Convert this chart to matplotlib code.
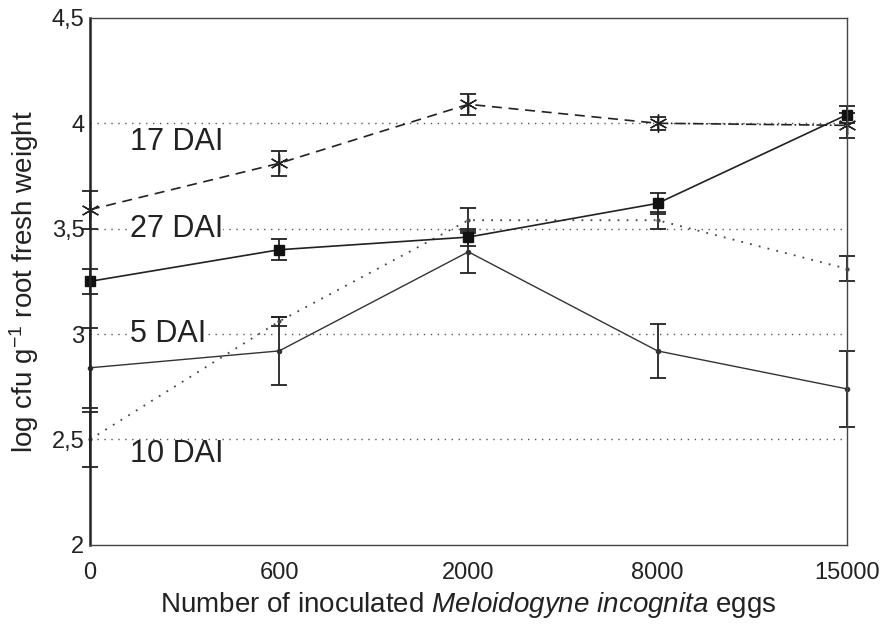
import numpy as np
import matplotlib
matplotlib.use("Agg")
import matplotlib.pyplot as plt

plt.rcParams['font.family'] = ['Liberation Sans', 'DejaVu Sans']
plt.rcParams['mathtext.fontset'] = 'custom'
plt.rcParams['mathtext.rm'] = 'Liberation Sans'
plt.rcParams['mathtext.it'] = 'Liberation Sans:italic'

# data
eggs = ['0', '600', '2000', '8000', '15000']

dai17 = [3.59, 3.81, 4.09, 4.00, 3.99]
dai17_err = [0.09, 0.06, 0.05, 0.03, 0.06]

dai27 = [3.25, 3.40, 3.46, 3.62, 4.04]
dai27_err = [0.06, 0.05, 0.04, 0.05, 0.04]

dai5 = [2.84, 2.92, 3.39, 2.92, 2.74]
dai5_err = [0.19, 0.16, 0.10, 0.13, 0.18]

dai10 = [2.50, 3.06, 3.54, 3.54, 3.31]
dai10_err = [0.13, 0.02, 0.06, 0.04, 0.06]

ref_levels = [4.0, 3.5, 3.0, 2.5]
ref_labels = ['17 DAI', '27 DAI', '5 DAI', '10 DAI']
label_offsets = [-0.09, 0.0, 0.0, -0.07]

x = np.arange(len(eggs))

fig = plt.figure(figsize=(8.82, 6.38), dpi=100)
ax = fig.add_axes([0.102, 0.146, 0.858, 0.826])

# dotted reference lines with labels
for lev, lab, off in zip(ref_levels, ref_labels, label_offsets):
    ax.plot([x[0], x[-1]], [lev, lev], color='#555555', ls=(0, (1, 4)), lw=1.0, zorder=1)
    ax.text(0.21, lev + off, lab, fontsize=22, va='center', ha='left',
            color='#222222', zorder=2,
            bbox=dict(facecolor='white', edgecolor='none', pad=0.3) if off == 0 else None)

ebkw = dict(ecolor='#222222', elinewidth=1.3, capsize=6, capthick=1.3)


def noclip(container):
    for art in container.get_children():
        art.set_clip_on(False)


# 17 DAI
noclip(ax.errorbar(x, dai17, yerr=dai17_err, fmt='none', **ebkw))
ax.plot(x[:4], dai17[:4], color='#222222', ls=(0, (6, 4)), lw=1.2)
ax.plot(x[3:], dai17[3:], color='#222222', ls='-.', lw=1.2)
ax.plot(x, dai17, ls='none', marker=(6, 2, 0), ms=13, mec='#222222', mew=1.0, clip_on=False)

# 27 DAI
noclip(ax.errorbar(x, dai27, yerr=dai27_err, fmt='-', color='#222222', lw=1.2,
                   marker='s', ms=7, mfc='#111111', mec='#111111', **ebkw))

# 5 DAI
noclip(ax.errorbar(x, dai5, yerr=dai5_err, fmt='-', color='#333333', lw=1.0,
                   marker='o', ms=3, mfc='#333333', **ebkw))

# 10 DAI
noclip(ax.errorbar(x, dai10, yerr=dai10_err, fmt='none', **ebkw))
ax.plot(x, dai10, color='#444444', ls=(0, (1, 4)), lw=1.3, marker='o', ms=2, clip_on=False)

ax.set_xlim(x[0], x[-1])
ax.set_ylim(2, 4.5)
ax.set_xticks(x)
ax.set_xticklabels(eggs)
yt = [2, 2.5, 3, 3.5, 4, 4.5]
ax.set_yticks(yt)
ax.set_yticklabels([('%g' % v).replace('.', ',') for v in yt])
ax.tick_params(axis='both', labelsize=17, colors='#222222', length=0)
ax.tick_params(axis='y', pad=4)
ax.tick_params(axis='x', pad=12)

for s in ['top', 'right', 'bottom']:
    ax.spines[s].set_linewidth(1.0)
    ax.spines[s].set_color('#444444')
ax.spines['left'].set_linewidth(1.8)
ax.spines['left'].set_color('#222222')

ax.set_ylabel('log cfu g$^{\\mathrm{-1}}$ root fresh weight', fontsize=20, color='#222222', labelpad=8)
ax.set_xlabel('Number of inoculated $\\it{Meloidogyne\\ incognita}$ eggs', fontsize=20,
              color='#222222', labelpad=5)

fig.savefig('out.png', dpi=100)
